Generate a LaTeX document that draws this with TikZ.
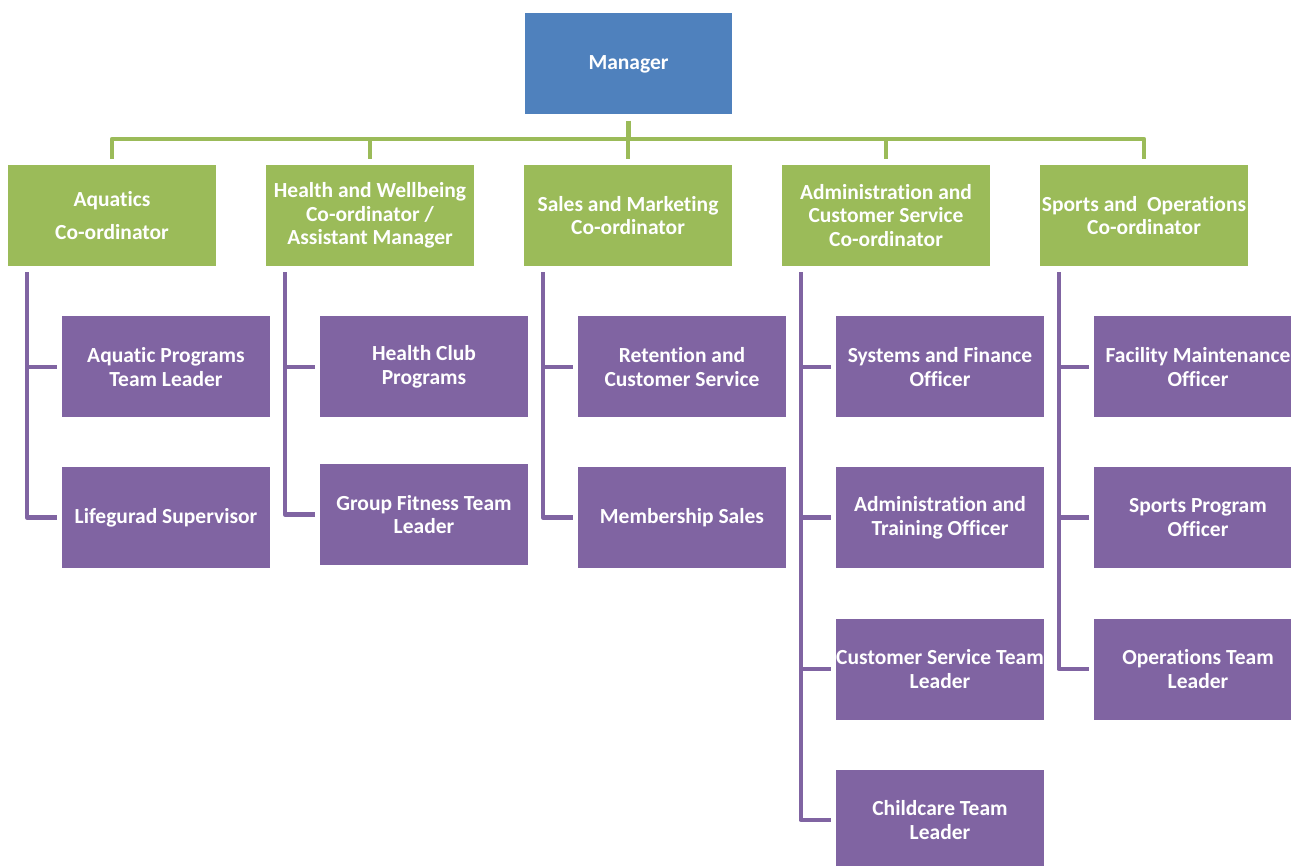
\documentclass[tikz,border=0pt]{standalone}
\usepackage{fontspec}
\setmainfont{Carlito}[Ligatures=NoCommon]
\definecolor{mblue}{HTML}{4F81BD}
\definecolor{mgreen}{HTML}{9BBB59}
\definecolor{mpurple}{HTML}{8064A2}
\begin{document}
\begin{tikzpicture}[x=1pt,y=-1pt,
  box/.style={rectangle, minimum width=208pt, minimum height=101pt, inner sep=0pt, text=white, align=center,
    font=\fontsize{21.5}{23.7}\selectfont\bfseries},
  mgr/.style={box, fill=mblue, minimum width=207pt},
  coord/.style={box, fill=mgreen},
  staff/.style={box, fill=mpurple},
  gline/.style={draw=mgreen, line width=4.5pt},
  pline/.style={draw=mpurple, line width=4.5pt}]
\useasboundingbox (0,0) rectangle (1291,866);
\clip (0,0) rectangle (1291,866);
% manager
\node[mgr] (m) at (628.5,64) {Manager};
% coordinators
\node[coord] (c1) at (112,215.5) {Aquatics\\[9.5pt]Co-ordinator};
\node[coord] (c2) at (370,215.5) {Health and Wellbeing\\Co-ordinator /\\Assistant Manager};
\node[coord] (c3) at (628,215.5) {Sales and Marketing\\Co-ordinator};
\node[coord] (c4) at (886,215.5) {Administration and\\Customer Service\\Co-ordinator};
\node[coord] (c5) at (1144,215.5) {Sports and\ \ Operations\\Co-ordinator};
% staff
\node[staff] (a1) at (166,367) {Aquatic Programs\\Team Leader};
\node[staff] (a2) at (166,517.5) {Lifegurad Supervisor};
\node[staff] (h1) at (424,367) {Health Club\\Programs};
\node[staff] (h2) at (424,514.5) {Group Fitness Team\\Leader};
\node[staff] (s1) at (682,367) {Retention and\\Customer Service};
\node[staff] (s2) at (682,517.5) {Membership Sales};
\node[staff] (d1) at (940,367) {Systems and Finance\\Officer};
\node[staff] (d2) at (940,517.5) {Administration and\\Training Officer};
\node[staff] (d3) at (940,669) {Customer Service Team\\Leader};
\node[staff] (d4) at (940,820) {Childcare Team\\Leader};
\node[staff] (f1) at (1198,367) {Facility Maintenance\\Officer};
\node[staff] (f2) at (1198,517.5) {Sports Program\\Officer};
\node[staff] (f3) at (1198,669) {Operations Team\\Leader};
% green connectors
\coordinate (bus) at (0,139);
\draw[gline, line join=round] ([yshift=6pt]c1.north) -- (c1.north |- bus) -- (c5.north |- bus) -- ([yshift=6pt]c5.north);
\foreach \i in {2,3,4} \draw[gline] ([yshift=6pt]c\i.north) -- (c\i.north |- bus);
\draw[gline] ([yshift=-6pt]m.south) -- (m.south |- bus);
% purple connectors
\coordinate (t1) at ([xshift=19pt,yshift=-6pt]c1.south west);
\coordinate (t2) at ([xshift=19pt,yshift=-6pt]c2.south west);
\coordinate (t3) at ([xshift=19pt,yshift=-6pt]c3.south west);
\coordinate (t4) at ([xshift=19pt,yshift=-6pt]c4.south west);
\coordinate (t5) at ([xshift=19pt,yshift=-6pt]c5.south west);
\draw[pline, line join=round] (t1) |- ([xshift=-5pt]a2.west);
\draw[pline] (t1 |- a1.west) -- ([xshift=-5pt]a1.west);
\draw[pline, line join=round] (t2) |- ([xshift=-5pt]h2.west);
\draw[pline] (t2 |- h1.west) -- ([xshift=-5pt]h1.west);
\draw[pline, line join=round] (t3) |- ([xshift=-5pt]s2.west);
\draw[pline] (t3 |- s1.west) -- ([xshift=-5pt]s1.west);
\draw[pline, line join=round] (t4) |- ([xshift=-5pt]d4.west);
\foreach \n in {d1,d2,d3} \draw[pline] (t4 |- \n.west) -- ([xshift=-5pt]\n.west);
\draw[pline, line join=round] (t5) |- ([xshift=-5pt]f3.west);
\foreach \n in {f1,f2} \draw[pline] (t5 |- \n.west) -- ([xshift=-5pt]\n.west);
\end{tikzpicture}
\end{document}
